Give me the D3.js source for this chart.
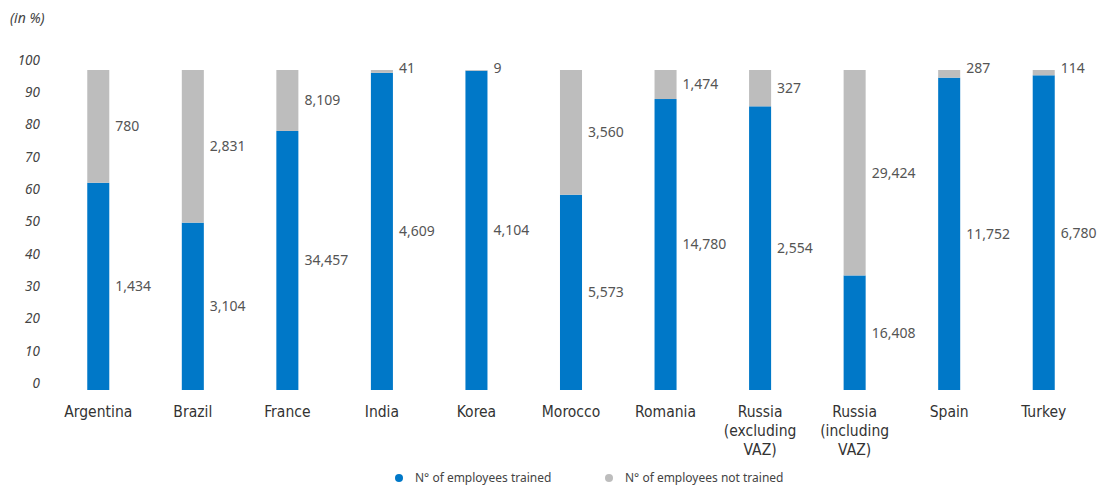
<!DOCTYPE html>
<html>
<head>
<meta charset="utf-8">
<script src="https://cdn.jsdelivr.net/npm/d3@7/dist/d3.min.js"></script>
<style>
  html, body { margin: 0; padding: 0; background: #fff; }
  svg { display: block; }
</style>
</head>
<body>
<svg id="chart" width="1101" height="487"></svg>
<script>
// Employees trained / not trained per country (stacked to 100%)
const categories = ["Argentina", "Brazil", "France", "India", "Korea", "Morocco", "Romania",
  "Russia\n(excluding\nVAZ)", "Russia\n(including\nVAZ)", "Spain", "Turkey"];
const trained    = [1434, 3104, 34457, 4609, 4104, 5573, 14780, 2554, 16408, 11752, 6780];
const notTrained = [780, 2831, 8109, 41, 9, 3560, 1474, 327, 29424, 287, 114];
const yTicks     = [0, 10, 20, 30, 40, 50, 60, 70, 80, 90, 100];
const seriesNames = ["N° of employees trained", "N° of employees not trained"];
const colors = ["#0078c8", "#bdbdbd"];

const svg = d3.select("#chart");
const fmt = d3.format(",");

const x = d3.scaleBand()
  .domain(d3.range(categories.length))
  .range([51, 1091])
  .paddingInner(0.767)
  .paddingOuter(0.3835);

// bar scale (percent share)
const y = d3.scaleLinear().domain([0, 100]).range([390, 70]);
// tick-label scale for the percent axis
const yAxisScale = d3.scaleLinear().domain([0, 100]).range([383, 60]);

// unit label
svg.append("text")
  .attr("x", 10).attr("y", 18)
  .attr("dy", "0.35em")
  .attr("font-family", "Noto Sans, sans-serif")
  .attr("font-style", "italic")
  .attr("font-size", 14)
  .attr("fill", "#444")
  .text("(in %)");

// y axis tick labels
const yAxis = d3.axisLeft(yAxisScale).tickValues(yTicks).tickSize(0).tickPadding(0);
const yg = svg.append("g").attr("transform", "translate(40,0)").call(yAxis);
yg.select(".domain").remove();
yg.selectAll("text")
  .attr("font-family", "Noto Sans, sans-serif")
  .attr("font-style", "italic")
  .attr("font-size", 13.5)
  .attr("fill", "#444");

const rows = categories.map((c, i) => {
  const total = trained[i] + notTrained[i];
  return { i, t: trained[i], n: notTrained[i], tp: trained[i] / total * 100 };
});

const bars = svg.append("g");
rows.forEach(r => {
  const x0 = x(r.i), w = x.bandwidth();
  bars.append("rect")
    .attr("x", x0).attr("width", w)
    .attr("y", y(r.tp)).attr("height", y(0) - y(r.tp))
    .attr("fill", colors[0]);
  bars.append("rect")
    .attr("x", x0).attr("width", w)
    .attr("y", y(100)).attr("height", y(r.tp) - y(100))
    .attr("fill", colors[1]);

  const lx = x0 + w + 6;
  const midT = (y(0) + y(r.tp)) / 2;
  let midN = (y(r.tp) + y(100)) / 2;
  if (y(r.tp) - y(100) < 14) midN = y(100) - 2;
  [[r.t, midT], [r.n, midN]].forEach(([v, yy]) => {
    bars.append("text")
      .attr("x", lx).attr("y", yy)
      .attr("dy", "0.35em")
      .attr("font-family", "Noto Sans, sans-serif")
      .attr("font-size", 14)
      .attr("fill", "#555")
      .text(fmt(v));
  });
});

// category labels
const xAxis = d3.axisBottom(x).tickSize(0).tickFormat("");
const xg = svg.append("g").attr("transform", "translate(0,390)").call(xAxis);
xg.select(".domain").remove();
categories.forEach((c, i) => {
  const t = svg.append("text")
    .attr("x", x(i) + x.bandwidth() / 2)
    .attr("y", 417)
    .attr("text-anchor", "middle")
    .attr("font-family", "DejaVu Sans Condensed, Noto Sans, sans-serif")
    .attr("font-size", 15.5)
    .attr("fill", "#333");
  c.split("\n").forEach((line, k) => {
    t.append("tspan")
      .attr("x", x(i) + x.bandwidth() / 2)
      .attr("dy", k === 0 ? 0 : 19)
      .text(line);
  });
});

// legend
const legendX = [399, 609];
seriesNames.forEach((name, k) => {
  svg.append("circle")
    .attr("cx", legendX[k]).attr("cy", 478).attr("r", 4)
    .attr("fill", colors[k]);
  svg.append("text")
    .attr("x", legendX[k] + 16).attr("y", 478)
    .attr("dy", "0.35em")
    .attr("font-family", "Noto Sans, sans-serif")
    .attr("font-size", 12)
    .attr("fill", "#444")
    .text(name);
});
</script>
</body>
</html>
